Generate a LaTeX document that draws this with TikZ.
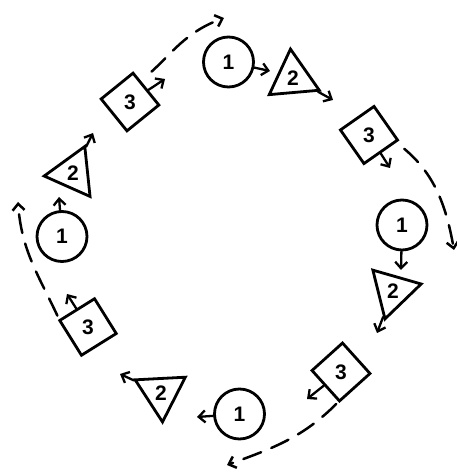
\documentclass[tikz,border=0pt]{standalone}
\usepackage{fontspec}
\setmainfont{Liberation Sans}
\usetikzlibrary{shapes.geometric,arrows.meta}
\tikzset{
  digit/.style={inner sep=0pt, line width=2.8pt, draw,
                font=\fontsize{21}{25}\selectfont\bfseries},
  one/.style={digit, circle, minimum size=50pt},
  two/.style={digit, regular polygon, regular polygon sides=3,
              minimum size=58pt, shape border rotate=#1},
  three/.style={digit, regular polygon, regular polygon sides=4,
                minimum size=58pt, shape border rotate=#1},
  stub/.style={-{Straight Barb[length=6.5pt,width=12pt]}, line width=2.3pt,
               line cap=round},
  jump/.style={stub, line width=2.5pt, dash pattern=on 19pt off 11pt}
}
\begin{document}
\begin{tikzpicture}[x=1pt, y=1pt]
  \useasboundingbox (0,0) rectangle (457,472);
  % top group
  \node[one] (o1) at (228.5,410) {1};
  \node[two=5] (t1) at (293,394) {2};
  \node[three=35] (q1) at (369,337) {3};
  % right group
  \node[one] (o2) at (402,247) {1};
  \node[two=44] (t2) at (393,181) {2};
  \node[three=42] (q2) at (341,100) {3};
  % bottom group
  \node[one] (o3) at (239.5,58) {1};
  \node[two=63] (t3) at (161,79) {2};
  \node[three=32] (q3) at (88,145) {3};
  % left group
  \node[one] (o4) at (62,235.5) {1};
  \node[two=-24] (t4) at (73,299) {2};
  \node[three=39] (q4) at (130,370) {3};
  % free ends
  \coordinate (p1) at (270,401); \coordinate (p2) at (333,372); \coordinate (p3) at (390,304);
  \coordinate (p4) at (401,202); \coordinate (p5) at (377,139); \coordinate (p6) at (307,73);
  \coordinate (p7) at (197,55);  \coordinate (p8) at (120,98);  \coordinate (p9) at (67,178);
  \coordinate (p10) at (59,275); \coordinate (p11) at (93,339); \coordinate (p12) at (165,393);
  \coordinate (e1) at (224,454); \coordinate (e2) at (454,222);
  \coordinate (e3) at (227,7);   \coordinate (e4) at (18,270);
  \draw[stub] (o1)--(p1); \draw[stub] (t1)--(p2); \draw[stub] (q1)--(p3);
  \draw[stub] (o2)--(p4); \draw[stub] (t2)--(p5); \draw[stub] (q2)--(p6);
  \draw[stub] (o3)--(p7); \draw[stub] (t3)--(p8); \draw[stub] (q3)--(p9);
  \draw[stub] (o4)--(p10); \draw[stub] (t4)--(p11); \draw[stub] (q4)--(p12);
  \draw[jump, shorten <=14pt] (q4.62) to[out=42, in=200] (e1);
  \draw[jump, shorten <=10pt] (q1.-15) to[out=-40, in=100] (e2);
  \draw[jump, shorten <=3pt] (q2.-95) to[out=-135, in=20] (e3);
  \draw[jump, shorten <=4pt] (q3.165) to[out=115, in=-86] (e4);
\end{tikzpicture}
\end{document}
